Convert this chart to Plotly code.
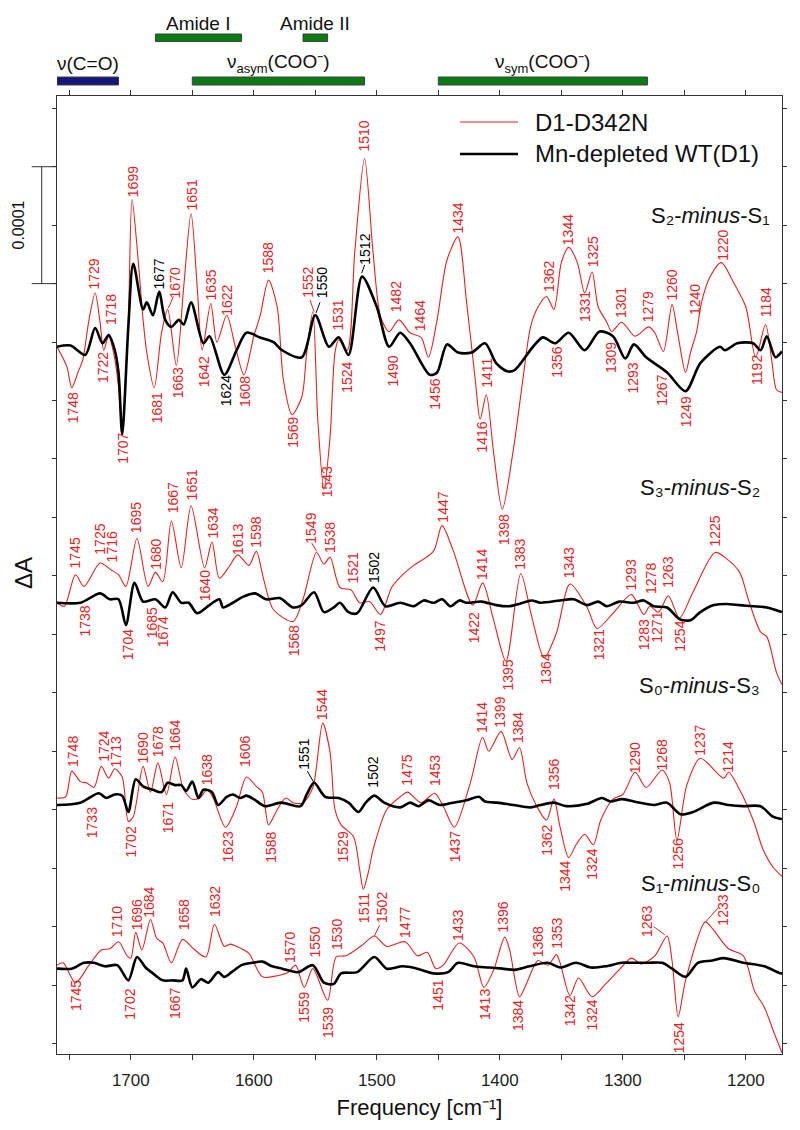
import plotly.graph_objects as go

FONT = "Liberation Sans, Arial, Helvetica, sans-serif"
RED = "#e3231f"
BLK = "#000000"
GREEN = "#0b7a12"
NAVY = "#14167a"

# ---------------- data : (wavenumber / cm-1 , dA in units of 1e-5) ----------------
# S2-minus-S1
s21_d342n = [(1760, 0), (1752, -1.7), (1748, -3.5), (1743, -2.2), (1739, -1.1), (1734, 2.3), (1729, 4.6),
             (1725, 2.1), (1722, -0.3), (1718, 0.9), (1714, -0.5), (1710, -3.4), (1707, -7.5), (1702, 2.3),
             (1699, 12.6), (1694, 7.4), (1690, 2.3), (1687, -0.5), (1681, -3.5), (1675, 1.2), (1670, 3.2),
             (1663, -1.6), (1657, 5.1), (1651, 11.4), (1646, 5.1), (1642, -0.3), (1635, 3.7), (1630, 0.4),
             (1622, 2.7), (1615, 0), (1608, -2.4), (1600, 0.9), (1595, 2.6), (1588, 5.7), (1581, 3.4),
             (1576, -2.8), (1569, -5.8), (1561, -4.3), (1557, -0.5), (1552, 3.0), (1548, -6.2), (1543, -12.2),
             (1538, -7.7), (1534, -0.5), (1531, 0.6), (1524, -0.3), (1518, 8.0), (1510, 16.1), (1503, 8.0),
             (1497, 2.6), (1490, 1.3), (1482, 2.3), (1473, 1.2), (1464, 0.8), (1458, -0.9), (1451, 2.3),
             (1443, 7.4), (1434, 9.4), (1427, 3.8), (1420, -2.8), (1416, -6.2), (1411, -4.1), (1405, -9.1),
             (1398, -13.9), (1389, -8.8), (1382, -3.4), (1375, 1.7), (1369, 3.4), (1362, 4.3), (1356, 3.2),
             (1350, 7.2), (1344, 8.5), (1337, 7.2), (1331, 4.6), (1325, 6.4), (1320, 3.4), (1313, 2.1),
             (1309, 1.3), (1301, 2.1), (1290, 0.9), (1279, 1.7), (1274, 1.2), (1267, -0.4), (1260, 3.6),
             (1255, 0.9), (1249, -2.2), (1245, -0.5), (1240, 1.3), (1236, 3.8), (1229, 6.0), (1220, 7.2),
             (1210, 5.5), (1200, 3.4), (1192, -0.9), (1184, 1.9), (1179, -1.1), (1175, -3.7), (1170.6, -3.9)]
s21_wt = [(1760, 0), (1749, 0.1), (1737, -0.7), (1729, 1.6), (1723, 0.3), (1718, 1.0), (1713, -0.3),
          (1710, -2.2), (1707, -7.5), (1702, 1.7), (1698, 7.1), (1690, 3.2), (1687, 3.8), (1682, 2.7),
          (1677, 4.7), (1672, 2.3), (1667, 1.7), (1661, 2.3), (1657, 1.9), (1651, 3.8), (1641, 0.3),
          (1636, 0.9), (1624, -2.4), (1614, -0.3), (1606, 1.2), (1595, 0.8), (1584, 0.4), (1577, -0.3),
          (1561, -0.9), (1550, 2.7), (1539, 0), (1531, 0.8), (1523, -0.7), (1512, 6.0), (1500, 3.4),
          (1490, 0), (1481, 1.2), (1473, 0.3), (1457, -2.4), (1451, -2.2), (1443, 0.2), (1434, -0.5),
          (1423, -0.5), (1412, 0.3), (1403, -1.4), (1394, -2.1), (1388, -2.0), (1373, 0), (1365, 0.8),
          (1355, 0.3), (1344, 1.2), (1331, -0.3), (1319, 1.3), (1308, 0.9), (1298, -1.0), (1291, 0.2),
          (1281, -0.9), (1264, -2.2), (1249, -3.8), (1237, -1.4), (1221, 0), (1217, -0.3), (1207, 0.3),
          (1194, 0.3), (1188, -0.3), (1183, 0.9), (1176, -0.9), (1170.6, -0.4)]

# S3-minus-S2
s32_d342n = [(1760, 0), (1754, -0.3), (1745, 2.4), (1738, 1.4), (1725, 3.4), (1716, 2.8), (1710, 2.4),
             (1704, 1.4), (1695, 5.5), (1686, 1.4), (1680, 2.6), (1674, 1.8), (1667, 7.0), (1659, 3.0),
             (1651, 8.3), (1640, 3.0), (1634, 5.2), (1628, 2.1), (1620, 3.1), (1613, 4.1), (1604, 3.2),
             (1598, 4.4), (1592, 2.0), (1584, -0.6), (1568, -1.6), (1560, 0.3), (1549, 4.3), (1543, 3.3),
             (1538, 3.9), (1530, 1.3), (1521, 1.1), (1514, 0), (1506, 0.1), (1497, -1.0), (1488, 1.3),
             (1481, 2.2), (1470, 3.2), (1454, 4.4), (1447, 6.6), (1438, 4.5), (1422, -0.2), (1414, 1.7),
             (1405, -1.5), (1395, -5.0), (1383, 2.5), (1374, -1.2), (1364, -4.7), (1354, -2.6), (1343, 1.6),
             (1329, -0.4), (1321, -2.2), (1308, -0.9), (1293, 0.7), (1283, -1.0), (1278, -0.3), (1271, -0.8),
             (1263, 0.6), (1254, -1.3), (1243, 0.9), (1225, 4.3), (1216, 3.8), (1205, 2.6), (1198, 0.3),
             (1188, -2.5), (1183, -2.9), (1175, -6.0), (1170.6, -7.0)]
s32_wt = [(1760, 0), (1741, 0), (1725, 0.8), (1717, 0.3), (1710, 0.3), (1704, -1.9), (1697, 1.7),
          (1690, 0.1), (1680, 0.3), (1672, -0.4), (1666, 0.9), (1659, 0), (1653, 0), (1646, -0.9),
          (1636, -0.2), (1628, 0.3), (1625, -0.4), (1617, 0), (1609, 0.5), (1599, 0.8), (1590, 0.3),
          (1579, 0.4), (1568, -0.4), (1561, -0.2), (1551, 0.9), (1543, -0.8), (1535, -0.4), (1530, 0),
          (1523, -0.8), (1516, -0.9), (1503, 1.3), (1493, -0.3), (1481, 0), (1470, -0.3), (1462, 0.2),
          (1454, 0), (1447, 0.3), (1440, -0.3), (1433, 0.2), (1427, 0), (1415, 0.1), (1403, -0.2),
          (1393, -0.3), (1381, 0), (1374, 0.2), (1367, 0), (1351, 0.2), (1340, 0.3), (1329, -0.2),
          (1320, 0.1), (1313, -0.3), (1303, 0.1), (1291, 0), (1283, 0.2), (1275, -0.3), (1264, -0.4),
          (1254, -1.4), (1245, -1.5), (1237, -0.8), (1226, -0.2), (1216, -0.1), (1205, -0.2), (1194, -0.3),
          (1183, -0.4), (1170.6, -0.8)]

# S0-minus-S3
s03_d342n = [(1760, 0.4), (1753, 0.5), (1748, 2.7), (1741, 1.8), (1736, 1.7), (1730, 1.3), (1724, 3.1),
             (1718, 2.1), (1713, 2.9), (1707, 2.2), (1702, -1.6), (1698, -1.2), (1690, 3.1), (1684, 0.9),
             (1678, 3.4), (1671, 0.7), (1664, 3.9), (1657, 1.1), (1650, 0.3), (1644, 0.4), (1638, 1.1),
             (1633, 0.4), (1623, -2.1), (1614, -0.3), (1606, 2.2), (1598, 1.4), (1593, 0.9), (1588, -1.9),
             (1581, -0.6), (1574, 0.4), (1568, 0), (1560, 0), (1552, 1.3), (1544, 6.8), (1538, 4.3),
             (1534, -0.6), (1529, -1.9), (1519, -2.9), (1514, -5.7), (1511, -7.4), (1507, -6.0), (1503, -4.0),
             (1492, -0.6), (1481, 0.5), (1475, 0.9), (1464, 0), (1453, 0.8), (1446, -0.3), (1437, -2.1),
             (1424, 1.7), (1414, 5.6), (1409, 4.4), (1399, 6.1), (1390, 3.7), (1384, 4.7), (1378, 1.7),
             (1370, -0.3), (1362, -1.5), (1356, 0.3), (1351, -2.1), (1344, -4.7), (1338, -3.6), (1331, -2.7),
             (1324, -3.6), (1318, -1.5), (1308, 0.3), (1300, 0.7), (1290, 2.6), (1281, 1.3), (1268, 2.8),
             (1262, 1.7), (1256, -3.2), (1248, 1.5), (1237, 3.8), (1218, 2.1), (1214, 2.6), (1205, 1.1),
             (1194, -1.5), (1186, -4.0), (1178, -5.5), (1170.6, -6.3)]
s03_wt = [(1760, -0.2), (1741, 0), (1726, 0.8), (1720, 0.4), (1713, 0.7), (1707, 0.6), (1702, -0.8),
          (1696, 2.0), (1690, 1.4), (1682, 1.1), (1675, 0.9), (1670, 1.7), (1664, 1.5), (1659, 1.5),
          (1655, 1.0), (1650, 1.8), (1645, 0.4), (1641, 1.1), (1634, 0.9), (1629, -0.2), (1622, 0.5),
          (1617, 0.7), (1611, 0.4), (1606, 0.6), (1600, 0.3), (1591, -0.3), (1578, 0), (1562, -0.3),
          (1557, 0.7), (1551, 1.7), (1542, 0.5), (1531, 0.4), (1523, 0), (1515, -0.8), (1509, 0),
          (1502, 0.6), (1494, 0), (1481, -0.4), (1473, 0), (1466, -0.3), (1458, 0.2), (1449, -0.2),
          (1438, 0), (1427, 0.2), (1417, 0.5), (1412, 0.1), (1402, 0), (1389, -0.2), (1375, -0.4),
          (1367, -0.2), (1356, 0), (1346, -0.3), (1329, -0.1), (1317, 0.4), (1310, 0.1), (1301, 0.3),
          (1291, 0.1), (1275, -0.2), (1264, 0), (1253, -1.0), (1243, -0.8), (1226, 0), (1214, -0.2),
          (1202, -0.3), (1188, -0.3), (1178, -1.2), (1170.6, -1.4)]

# S1-minus-S0
s10_d342n = [(1760, 0.1), (1755, 0.3), (1745, -1.4), (1734, 0.1), (1724, 1.4), (1717, 1.5), (1710, 2.1),
             (1703, 0.9), (1700, 0.7), (1696, 2.9), (1691, 1.4), (1684, 4.0), (1679, 2.4), (1674, 2.0),
             (1667, 0.3), (1658, 2.3), (1649, 1.5), (1639, 0.8), (1632, 3.6), (1624, 1.7), (1619, 1.9),
             (1612, 1.6), (1604, 1.1), (1593, -0.9), (1581, -0.8), (1572, -0.5), (1566, 0.1), (1559, -1.8),
             (1552, -0.2), (1540, -2.9), (1533, 0.8), (1525, 0.9), (1512, 1.8), (1502, 2.6), (1492, 1.7),
             (1477, 2.1), (1467, 0.9), (1459, 1.2), (1452, -0.2), (1446, 0.1), (1433, 2.0), (1421, 0.8),
             (1413, -1.8), (1405, -0.3), (1396, 2.5), (1392, 1.4), (1384, -2.6), (1378, -1.4), (1369, 0.5),
             (1361, 0.1), (1354, 1.0), (1351, 0.3), (1343, -2.5), (1336, -1.0), (1325, -2.6), (1314, -1.5),
             (1303, -0.3), (1293, 0.7), (1285, 0.2), (1274, 0.9), (1264, 2.6), (1260, 0.5), (1255, -4.3),
             (1249, -1.2), (1233, 3.8), (1227, 3.2), (1214, 1.5), (1202, 0.9), (1193, -2.1), (1185, -3.5),
             (1177, -5.7), (1170.6, -7.4)]
s10_wt = [(1760, -0.2), (1748, -0.2), (1738, 0.3), (1730, 0.3), (1721, 0), (1711, 0.1), (1702, -1.2),
          (1695, 0.8), (1688, -0.1), (1682, -0.6), (1674, -1.2), (1666, -1.2), (1658, -1.2), (1655, -0.2),
          (1650, -1.8), (1643, -1.1), (1637, -1.4), (1629, -0.5), (1624, -0.9), (1618, -0.5), (1610, 0.1),
          (1601, 0.3), (1593, 0.4), (1585, 0), (1577, -0.2), (1564, -0.5), (1552, 0.1), (1543, -1.4),
          (1535, -1.5), (1529, -0.6), (1516, -0.5), (1502, 0.8), (1492, -0.2), (1479, 0), (1467, -0.2),
          (1454, -0.6), (1442, -0.5), (1434, 0.3), (1421, 0), (1409, -0.1), (1398, -0.2), (1388, -0.3),
          (1376, 0), (1361, 0.3), (1351, -0.1), (1338, 0.3), (1326, -0.1), (1314, 0), (1301, 0.3),
          (1291, 0.3), (1280, 0.3), (1268, 0.3), (1260, -0.2), (1249, -0.9), (1239, 0.3), (1227, 0.5),
          (1218, 0.7), (1202, 0.3), (1185, 0), (1172, -0.6), (1170.6, -0.6)]

# peak labels: (text, wavenumber of label centre, height above baseline in 1e-5 dA, colour key)
s21_peaks = [("1748", 1747.2, -5.2, "r"), ("1729", 1729.7, 6.2, "r"), ("1722", 1722.4, -1.8, "r"),
             ("1718", 1715.5, 3.2, "r"), ("1707", 1706.1, -8.7, "r"), ("1699", 1698, 14.1, "r"),
             ("1681", 1678.9, -5.2, "r"), ("1677", 1676.8, 6.2, "k"), ("1670", 1664.1, 5.5, "r"),
             ("1663", 1661.4, -3.1, "r"), ("1651", 1650.5, 13.0, "r"), ("1642", 1640.5, -2.1, "r"),
             ("1635", 1635, 5.3, "r"), ("1624", 1622.6, -3.8, "k"), ("1622", 1622, 4.0, "r"),
             ("1608", 1607.2, -3.8, "r"), ("1588", 1588.2, 7.6, "r"), ("1569", 1568.4, -7.3, "r"),
             ("1552", 1555.7, 5.5, "r"), ("1550", 1544, 5.5, "k"), ("1543", 1540.5, -11.6, "r"),
             ("1531", 1531.3, 2.7, "r"), ("1524", 1524.5, -2.6, "r"), ("1512", 1509.6, 8.3, "k"),
             ("1510", 1510.2, 18.0, "r"), ("1490", 1486.6, -2.1, "r"), ("1482", 1483.8, 4.3, "r"),
             ("1464", 1464.9, 2.7, "r"), ("1456", 1452.7, -4.1, "r"), ("1434", 1433.7, 11.0, "r"),
             ("1416", 1414.7, -7.7, "r"), ("1411", 1410.2, -2.2, "r"), ("1398", 1396.6, -15.7, "r"),
             ("1362", 1360.6, 6.0, "r"), ("1356", 1353.7, -1.3, "r"), ("1344", 1344.3, 10.0, "r"),
             ("1331", 1330.7, 3.4, "r"), ("1325", 1324, 8.1, "r"), ("1309", 1309, -0.9, "r"),
             ("1301", 1300.9, 3.8, "r"), ("1293", 1291.5, -2.7, "r"), ("1279", 1279.3, 3.4, "r"),
             ("1267", 1268.4, -3.7, "r"), ("1260", 1260.2, 5.3, "r"), ("1249", 1248.6, -5.6, "r"),
             ("1240", 1241.3, 4.0, "r"), ("1220", 1218.8, 8.7, "r"), ("1192", 1191.1, -2.0, "r"),
             ("1184", 1183.6, 3.8, "r")]
s32_peaks = [("1745", 1745.4, 4.3, "r"), ("1738", 1737.2, -1.6, "r"), ("1725", 1725, 5.4, "r"),
             ("1716", 1715.5, 4.8, "r"), ("1704", 1702, -3.6, "r"), ("1695", 1695.2, 7.3, "r"),
             ("1685", 1683, -1.7, "r"), ("1680", 1679.5, 4.1, "r"), ("1674", 1673.6, -2.5, "r"),
             ("1667", 1665.9, 9.0, "r"), ("1651", 1650.5, 10.1, "r"), ("1640", 1639.7, 1.5, "r"),
             ("1634", 1632.9, 6.8, "r"), ("1613", 1613.4, 5.4, "r"), ("1598", 1598.2, 6.0, "r"),
             ("1568", 1567.3, -3.3, "r"), ("1549", 1553.7, 6.4, "r"), ("1538", 1537.5, 5.6, "r"),
             ("1521", 1519.6, 3.0, "r"), ("1502", 1502.8, 3.0, "k"), ("1497", 1497.4, -2.9, "r"),
             ("1447", 1446.4, 8.2, "r"), ("1422", 1421, -2.1, "r"), ("1414", 1414.7, 3.3, "r"),
             ("1395", 1393.1, -6.2, "r"), ("1383", 1383.6, 4.1, "r"), ("1364", 1362.4, -5.7, "r"),
             ("1343", 1343.5, 3.4, "r"), ("1321", 1319.9, -3.6, "r"), ("1293", 1293.6, 2.4, "r"),
             ("1283", 1282.8, -2.7, "r"), ("1278", 1277.3, 2.1, "r"), ("1271", 1271.9, -2.1, "r"),
             ("1263", 1263, 2.6, "r"), ("1254", 1253.5, -2.9, "r"), ("1225", 1225, 6.1, "r")]
s03_peaks = [("1748", 1747.2, 4.4, "r"), ("1733", 1731.8, -1.7, "r"), ("1724", 1722.4, 4.8, "r"),
             ("1713", 1712, 4.3, "r"), ("1702", 1699.8, -3.4, "r"), ("1690", 1690.3, 4.7, "r"),
             ("1678", 1677.6, 5.2, "r"), ("1671", 1669.5, -1.3, "r"), ("1664", 1664.1, 5.8, "r"),
             ("1638", 1637.8, 2.8, "r"), ("1623", 1620.7, -3.8, "r"), ("1606", 1606.6, 4.4, "r"),
             ("1588", 1586.3, -3.8, "r"), ("1551", 1559.2, 4.1, "k"), ("1544", 1544, 8.4, "r"),
             ("1529", 1527.2, -3.8, "r"), ("1502", 1502.8, 2.6, "k"), ("1475", 1475.7, 2.8, "r"),
             ("1453", 1452.7, 2.7, "r"), ("1437", 1436.4, -3.8, "r"), ("1414", 1413.9, 7.3, "r"),
             ("1399", 1399.8, 7.7, "r"), ("1384", 1385, 6.4, "r"), ("1362", 1361.9, -3.2, "r"),
             ("1356", 1356.5, 2.4, "r"), ("1344", 1346.6, -6.3, "r"), ("1324", 1325, -5.3, "r"),
             ("1290", 1290.1, 3.8, "r"), ("1268", 1268.4, 4.1, "r"), ("1256", 1254.9, -4.4, "r"),
             ("1237", 1237.2, 5.3, "r"), ("1214", 1214.2, 3.9, "r")]
s10_peaks = [("1745", 1745, -2.5, "r"), ("1710", 1711, 3.8, "r"), ("1702", 1700.7, -3.2, "r"),
             ("1696", 1695.4, 4.4, "r"), ("1684", 1685.4, 5.5, "r"), ("1667", 1664.7, -3.2, "r"),
             ("1658", 1657.2, 4.4, "r"), ("1632", 1631.5, 5.5, "r"), ("1570", 1571.1, 1.6, "r"),
             ("1559", 1558.7, -3.5, "r"), ("1550", 1550.4, 2.1, "r"), ("1539", 1539.2, -4.8, "r"),
             ("1530", 1532.2, 2.7, "r"), ("1511", 1510.2, 5.0, "r"), ("1502", 1495.7, 5.0, "r"),
             ("1477", 1477.1, 3.8, "r"), ("1451", 1451, -2.5, "r"), ("1433", 1433.6, 3.5, "r"),
             ("1413", 1412, -3.3, "r"), ("1396", 1397.2, 4.2, "r"), ("1384", 1384.7, -4.2, "r"),
             ("1368", 1369.4, 2.1, "r"), ("1353", 1354.1, 2.8, "r"), ("1342", 1343.3, -3.8, "r"),
             ("1324", 1325, -4.2, "r"), ("1263", 1280.3, 3.8, "r"), ("1254", 1254.6, -6.1, "r"),
             ("1233", 1218.2, 4.8, "r")]

# leader lines from a peak to its label: (nu1, h1, nu2, h2, colour key)
s21_leaders = [(1669.5, 3.3, 1665.4, 4.3, "r"), (1554.3, 4.0, 1551, 3.0, "r"),
               (1549.4, 2.9, 1546.2, 3.8, "k"), (1512.3, 6.3, 1509.9, 7.0, "k")]
s32_leaders = [(1552.9, 5.1, 1548.9, 4.4, "r")]
s03_leaders = [(1556.5, 2.7, 1551, 1.7, "k")]
s10_leaders = [(1275, 3.4, 1265.9, 2.7, "r"), (1232.7, 3.8, 1222.4, 5.0, "r"),
               (1502, 2.6, 1497.8, 3.5, "r")]

# band assignment bars (top)
SUBSTYLE = "font-size:13px;baseline-shift:-5px"
band_names = ["ν(C=O)", "Amide I", "Amide II",
              "ν<span style='" + SUBSTYLE + "'>asym</span>(COO⁻)",
              "ν<span style='" + SUBSTYLE + "'>sym</span>(COO⁻)"]
band_start = [1760, 1680, 1560, 1650, 1450]
band_end = [1710, 1610, 1540, 1510, 1280]
band_row = [0, 1, 1, 0, 0]
band_colors = [NAVY, GREEN, GREEN, GREEN, GREEN]

x_tickvals = [1700, 1600, 1500, 1400, 1300, 1200]
x_minor_tickvals = [1750, 1650, 1550, 1450, 1350, 1250]
y_tickvals = [0, 5, 10, 15, 20, 25, 30, 35, 40, 45, 50, 55, 60, 65, 70, 75, 80]
scale_bar = (65, 75)   # 0.0001 dA = 10 units

# ---------------- layout helpers (page pixels; the page body adds an 8 px margin) ----------------
PAGE_PAD = 8
W, H = 800 - PAGE_PAD, 1130 - PAGE_PAD
PLOT_X0, PLOT_X1, PLOT_Y0, PLOT_Y1 = 57, 782, 96, 1054     # plot area in page pixels
L = PLOT_X0 - PAGE_PAD
T = PLOT_Y0 - PAGE_PAD
R = W + PAGE_PAD - PLOT_X1
B = H + PAGE_PAD - PLOT_Y1
PW, PH = PLOT_X1 - PLOT_X0, PLOT_Y1 - PLOT_Y0


def px(x):  # page pixel x -> paper
    return (x - PLOT_X0) / PW


def py(y):  # page pixel y -> paper
    return (PLOT_Y1 - y) / PH


COL = {"r": RED, "k": BLK}

spectra = [
    dict(label="S₂-<i>minus</i>-S₁", red=s21_d342n, blk=s21_wt, off=59.6,
         peaks=s21_peaks, leaders=s21_leaders, lx=771.7, ly=215),
    dict(label="S₃-<i>minus</i>-S₂", red=s32_d342n, blk=s32_wt, off=37.7,
         peaks=s32_peaks, leaders=s32_leaders, lx=761.7, ly=488),
    dict(label="S₀-<i>minus</i>-S₃", red=s03_d342n, blk=s03_wt, off=20.6,
         peaks=s03_peaks, leaders=s03_leaders, lx=761.7, ly=685),
    dict(label="S₁-<i>minus</i>-S₀", red=s10_d342n, blk=s10_wt, off=6.6,
         peaks=s10_peaks, leaders=s10_leaders, lx=761.6, ly=883),
]

fig = go.Figure()
annotations = []
shapes = []

for sp in spectra:
    off = sp["off"]
    nu, v = zip(*sp["red"])
    fig.add_trace(go.Scatter(x=list(nu), y=[a + off for a in v], mode="lines", name="D1-D342N",
                             showlegend=False,
                             line=dict(color=RED, width=1.1, shape="spline", smoothing=0.8)))
for sp in spectra:
    off = sp["off"]
    nu, v = zip(*sp["blk"])
    fig.add_trace(go.Scatter(x=list(nu), y=[a + off for a in v], mode="lines", name="Mn-depleted WT(D1)",
                             showlegend=False,
                             line=dict(color=BLK, width=2.6, shape="spline", smoothing=0.8)))

for sp in spectra:
    off = sp["off"]
    for txt, nu, h, c in sp["peaks"]:
        annotations.append(dict(x=nu, y=off + h, xref="x", yref="y", text=txt, textangle=-90,
                                showarrow=False, xanchor="center", yanchor="middle",
                                font=dict(family=FONT, size=14, color=COL[c])))
    for n1, h1, n2, h2, c in sp["leaders"]:
        shapes.append(dict(type="line", xref="x", yref="y", x0=n1, y0=off + h1, x1=n2, y1=off + h2,
                           line=dict(color=COL[c], width=1)))
    annotations.append(dict(x=px(sp["lx"]), y=py(sp["ly"]), xref="paper", yref="paper", text=sp["label"],
                            showarrow=False, xanchor="right", yanchor="middle",
                            font=dict(family=FONT, size=22, color="#111")))

# band bars
row_y = {0: (85, 77), 1: (41.5, 34)}
row_label_y = {0: 63, 1: 24}
for name, s, e, r, c in zip(band_names, band_start, band_end, band_row, band_colors):
    y0, y1 = row_y[r]
    shapes.append(dict(type="rect", xref="x", yref="paper", x0=s, x1=e, y0=py(y0), y1=py(y1),
                       fillcolor=c, line=dict(color="#404040", width=1), layer="above"))
    annotations.append(dict(x=(s + e) / 2, y=py(row_label_y[r]), xref="x", yref="paper", text=name,
                            showarrow=False, xanchor="center", yanchor="middle",
                            font=dict(family=FONT, size=19, color="#111")))

# manual legend
shapes.append(dict(type="line", xref="paper", yref="paper", x0=px(460), x1=px(518), y0=py(122), y1=py(122),
                   line=dict(color=RED, width=1.2)))
shapes.append(dict(type="line", xref="paper", yref="paper", x0=px(460), x1=px(518), y0=py(154), y1=py(154),
                   line=dict(color=BLK, width=2.6)))
annotations.append(dict(x=px(533), y=py(122), xref="paper", yref="paper", text="D1-D342N", showarrow=False,
                        xanchor="left", yanchor="middle", font=dict(family=FONT, size=24, color="#111")))
annotations.append(dict(x=px(533), y=py(154), xref="paper", yref="paper", text="Mn-depleted WT(D1)",
                        showarrow=False, xanchor="left", yanchor="middle",
                        font=dict(family=FONT, size=24, color="#111")))

# scale bar
sb0, sb1 = scale_bar
shapes.append(dict(type="line", xref="paper", yref="y", x0=px(41.7), x1=px(41.7), y0=sb0, y1=sb1,
                   line=dict(color="#333", width=1)))
for yy in (sb0, sb1):
    shapes.append(dict(type="line", xref="paper", yref="y", x0=px(31.7), x1=px(57), y0=yy, y1=yy,
                       line=dict(color="#333", width=1)))
annotations.append(dict(x=px(18.3), y=(sb0 + sb1) / 2, xref="paper", yref="y", text="0.0001", textangle=-90,
                        showarrow=False, xanchor="center", yanchor="middle",
                        font=dict(family=FONT, size=16, color="#111")))

# y title
annotations.append(dict(x=px(23), y=py(573), xref="paper", yref="paper", text="ΔA", textangle=-90,
                        showarrow=False, xanchor="center", yanchor="middle",
                        font=dict(family=FONT, size=24, color="#111")))

fig.update_layout(
    width=W, height=H, margin=dict(l=L, r=R, t=T, b=B, pad=0), autosize=False,
    paper_bgcolor="white", plot_bgcolor="white", showlegend=False,
    font=dict(family=FONT, color="#111"),
    annotations=annotations, shapes=shapes,
)
fig.update_xaxes(range=[1760, 1170.6], tickmode="array", tickvals=x_tickvals,
                 ticks="outside", ticklen=5, tickwidth=1, tickcolor="#333",
                 minor=dict(tickmode="array", tickvals=x_minor_tickvals, ticks="outside", ticklen=5,
                            tickwidth=1, tickcolor="#333", showgrid=False),
                 showline=True, linecolor="#333", linewidth=1, mirror="ticks",
                 showgrid=False, zeroline=False, ticklabelstandoff=6,
                 tickfont=dict(family=FONT, size=17, color="#222"),
                 title=dict(text="Frequency [cm⁻¹]", font=dict(family=FONT, size=22, color="#111"),
                            standoff=10))
fig.update_yaxes(range=[-0.9, 81.05], tickmode="array", tickvals=y_tickvals, showticklabels=False,
                 ticks="outside", ticklen=4, tickwidth=1, tickcolor="#333",
                 showline=True, linecolor="#333", linewidth=1, mirror="ticks",
                 showgrid=False, zeroline=False)

fig.write_html("out.html")
